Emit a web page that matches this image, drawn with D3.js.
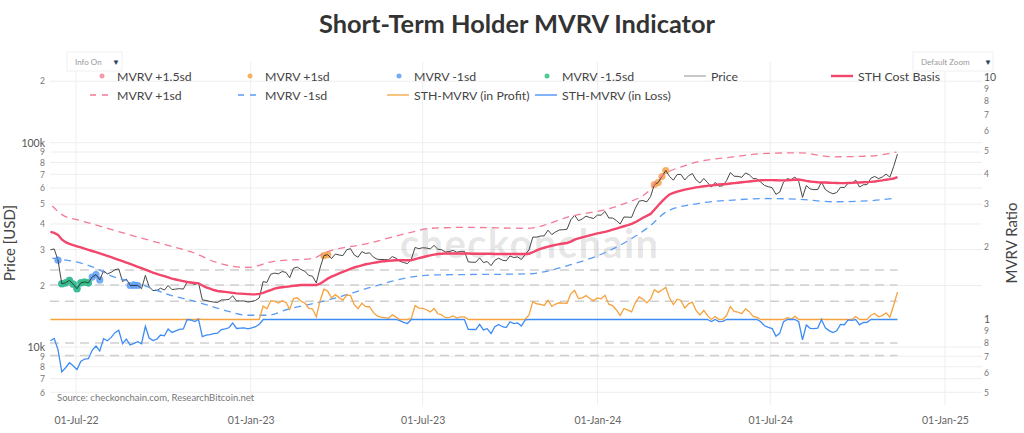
<!DOCTYPE html>
<html><head><meta charset="utf-8">
<script src="https://cdn.jsdelivr.net/npm/d3@7"></script>
<style>
body{margin:0;background:#fff;}
svg{display:block;font-family:Lato,'Open Sans',sans-serif;}
</style>
</head><body><svg id="c" width="1024" height="433"></svg>
<script>
// ---------- DATA ----------
const priceStart = "2022-06-04";
const stepDays = 4;
// BTC price, thousands of USD, one sample every 4 days from priceStart
const price = [
 29.9,30.2,26.6,20.4,20.6,21.2,20.3,
 19.3,20.6,20.8,20.6,22.0,22.6,21.3,23.6,
 22.8,23.2,23.9,24.1,20.9,21.5,20.0,20.0,
 20.0,19.3,22.4,19.7,18.9,18.9,19.4,
 19.0,20.0,19.1,19.2,19.3,19.2,20.8,20.6,
 20.2,20.6,17.0,16.9,16.7,16.6,16.5,
 17.0,17.0,17.1,17.8,16.8,16.8,16.8,16.6,
 16.7,16.9,17.4,20.9,20.7,22.7,23.0,22.8,
 23.4,23.2,21.8,24.3,24.6,23.9,23.5,
 22.4,22.2,20.6,24.4,28.0,28.3,27.1,28.5,
 28.2,28.0,29.9,30.3,28.2,27.5,29.3,
 28.7,28.9,27.6,26.9,26.8,26.8,26.7,27.7,
 27.2,26.3,25.9,25.6,26.8,30.7,30.3,
 30.6,30.5,30.2,31.4,30.1,29.9,29.2,29.3,
 29.7,29.1,29.4,29.4,26.1,26.0,26.0,27.3,
 25.9,26.2,25.0,26.6,27.2,26.6,26.4,
 27.9,27.4,27.6,26.8,28.4,29.9,34.5,34.5,
 34.9,35.0,37.3,35.5,36.6,37.4,37.5,37.7,
 41.9,44.2,41.5,42.3,43.7,43.0,42.6,
 44.2,44.2,46.1,42.8,42.8,41.6,40.0,43.3,
 43.2,43.1,47.8,51.8,52.1,51.3,54.5,
 62.4,63.8,68.3,73.1,68.4,65.5,69.9,69.9,
 65.7,68.9,70.6,65.7,63.5,66.8,63.8,60.6,
 63.9,61.2,61.5,65.2,71.4,68.5,68.4,
 67.7,71.1,69.6,66.8,66.5,64.1,61.8,60.9,
 60.2,55.9,57.3,64.1,66.7,65.9,67.9,64.6,
 54.0,61.7,59.4,58.9,59.0,64.1,59.0,
 57.3,56.2,57.0,60.5,60.3,63.3,63.1,65.6,
 60.7,62.2,62.4,67.0,68.4,66.7,67.9,70.2,
 67.8,76.5,88.0
];
// STH cost basis, thousands of USD, same dates as price
const costBasis = [
 36.6,36.2,35.4,33.6,32.6,32.0,31.5,
 31.1,30.7,30.3,29.9,29.5,29.1,28.7,28.3,
 27.9,27.5,27.1,26.7,26.3,25.9,25.5,25.1,
 24.7,24.3,23.9,23.5,23.1,22.8,22.5,
 22.2,21.9,21.6,21.4,21.2,21.0,20.8,20.7,
 20.6,20.5,20.0,19.6,19.3,19.0,18.8,
 18.7,18.6,18.5,18.4,18.3,18.25,18.2,18.15,
 18.1,18.1,18.2,18.4,18.7,19.0,19.3,19.5,
 19.6,19.7,19.8,19.9,20.0,20.1,20.1,
 20.1,20.1,20.1,20.4,21.0,21.6,22.1,22.5,
 22.9,23.3,23.7,24.1,24.5,24.8,25.1,
 25.4,25.6,25.8,26.0,26.2,26.3,26.4,26.5,
 26.6,26.6,26.6,26.6,26.6,26.9,27.2,
 27.5,27.8,28.1,28.3,28.5,28.6,28.7,28.7,
 28.7,28.7,28.7,28.7,28.7,28.6,28.6,28.6,
 28.6,28.6,28.6,28.5,28.5,28.5,28.5,
 28.5,28.5,28.5,28.5,28.5,28.6,29.1,29.7,
 30.2,30.6,31.0,31.3,31.6,31.9,32.1,32.3,
 32.8,33.5,34.0,34.4,34.8,35.2,35.6,
 36.0,36.3,36.6,37.0,37.5,38.0,38.5,39.0,
 39.5,40.1,40.8,41.8,42.9,43.8,44.8,
 47.0,49.3,51.6,53.8,55.8,56.8,57.6,58.3,
 58.9,59.4,59.9,60.4,60.8,61.2,61.5,61.8,
 62.1,62.4,62.6,62.8,63.1,63.4,63.7,
 64.0,64.3,64.6,64.9,65.2,65.5,65.6,65.6,
 65.6,65.5,65.4,65.4,65.5,65.7,65.9,66.0,
 65.6,65.0,64.6,64.3,64.0,63.9,63.8,
 63.7,63.6,63.5,63.4,63.4,63.5,63.6,63.8,
 63.9,64.0,64.1,64.3,64.6,65.0,65.4,65.9,
 66.3,66.8,67.8
];
// +1sd / -1sd price bands (thousands of USD)
const upperDates = ["2022-06-06","2022-06-17","2022-07-04","2022-08-03","2022-09-04","2022-10-05","2022-11-03","2022-11-25","2022-12-29","2023-01-24","2023-03-08","2023-03-19","2023-05-04","2023-06-22","2023-07-09","2023-08-17","2023-10-19","2023-12-03","2024-01-25","2024-02-25","2024-03-05","2024-04-04","2024-05-23","2024-06-27","2024-08-01","2024-09-05","2024-10-11","2024-11-11"];
const bandUpper = [49.0,44.2,41.8,38.1,34.5,31.5,28.8,26.0,24.5,26.2,27.2,28.8,32.1,36.7,38.1,38.5,38.1,43.5,49.5,58.6,66.0,77.7,85.3,88.6,89.2,85.3,85.9,90.0];
const lowerDates = ["2022-06-06","2022-07-26","2022-08-03","2022-09-04","2022-10-08","2022-11-06","2022-12-03","2022-12-29","2023-01-19","2023-02-09","2023-03-10","2023-04-01","2023-05-04","2023-06-22","2023-07-09","2023-10-19","2023-12-03","2024-01-25","2024-02-25","2024-03-14","2024-04-17","2024-05-23","2024-06-27","2024-08-01","2024-09-05","2024-10-11","2024-11-06"];
const bandLower = [27.2,23.8,22.7,20.5,17.96,16.6,15.2,14.3,14.3,15.3,16.4,17.4,19.4,22.1,22.5,22.8,25.2,31.5,39.0,46.0,50.5,52.4,53.3,52.8,51.4,51.9,53.3];
// signal markers (dates on the price series)
const dotsPlus15 = [];
const dotsPlus1 = ["2023-03-19","2023-03-23","2024-03-01","2024-03-05","2024-03-09","2024-03-13"];
const dotsMinus1 = ["2022-06-12","2022-06-16","2022-06-20","2022-06-24","2022-06-28","2022-07-02","2022-07-06","2022-07-10","2022-07-14","2022-07-18","2022-07-22","2022-07-26","2022-08-27","2022-08-31","2022-09-04"];
const dotsMinus15 = ["2022-06-16","2022-06-20","2022-06-24","2022-06-28","2022-07-02","2022-07-06","2022-07-10","2022-07-14"];
// horizontal MVRV reference levels
const refLevels = [1.6,1.39,1.19,0.8,0.71];
// ticks
const xTicks = ["2022-07-01","2023-01-01","2023-07-01","2024-01-01","2024-07-01","2025-01-01"];
const leftTicks = [6000,7000,8000,9000,10000,20000,30000,40000,50000,60000,70000,80000,90000,100000,200000];
const rightTicks = [0.5,0.6,0.7,0.8,0.9,1,2,3,4,5,6,7,8,9,10];

// ---------- SETUP ----------
const svg = d3.select("#c");
const L = 50, R = 982, T = 62, B = 405;
const parse = d3.utcParse("%Y-%m-%d");
const t0 = parse(priceStart);
const dates = price.map((_, i) => d3.utcDay.offset(t0, i * stepDays));
const series = price.map((p, i) => ({d: dates[i], p: p * 1000, c: costBasis[i] * 1000, m: p / costBasis[i]}));
const byKey = new Map(series.map(s => [d3.utcFormat("%Y-%m-%d")(s.d), s]));

const x = d3.scaleUtc().domain([new Date(Date.UTC(2022,5,3,14)), new Date(Date.UTC(2025,1,9))]).range([L, R]);
const yL = d3.scaleLog().domain([Math.pow(10,3.716), Math.pow(10,5.395)]).range([B, T]);
const yR = d3.scaleLog().domain([Math.pow(10,-0.3533), Math.pow(10,1.064)]).range([B, T]);

// ---------- GRID ----------
const grid = svg.append("g");
grid.selectAll("line.h").data(leftTicks).join("line")
  .attr("x1", L).attr("x2", R).attr("y1", d => yL(d)).attr("y2", d => yL(d))
  .attr("stroke", "#eeeeee").attr("stroke-width", 1);
grid.selectAll("line.v").data(xTicks.map(parse)).join("line")
  .attr("x1", d => x(d)).attr("x2", d => x(d)).attr("y1", T).attr("y2", B)
  .attr("stroke", "#eeeeee").attr("stroke-width", 1);

// watermark
svg.append("text").attr("x", 529).attr("y", 258).attr("text-anchor", "middle")
  .attr("font-size", 40).attr("font-weight", 700).attr("fill", "#000").attr("fill-opacity", 0.11)
  .attr("textLength", 258).text("checkonchain");

// reference dashed levels
const lastD = dates[dates.length - 1];
svg.append("g").selectAll("line").data(refLevels).join("line")
  .attr("x1", L).attr("x2", x(lastD)).attr("y1", d => yR(d)).attr("y2", d => yR(d))
  .attr("stroke", "#cfcfcf").attr("stroke-width", 1.5).attr("stroke-dasharray", "9,6");

// dots
function dots(list, color) {
  svg.append("g").selectAll("circle").data(list.map(k => byKey.get(k)).filter(Boolean)).join("circle")
    .attr("cx", d => x(d.d)).attr("cy", d => yL(d.p)).attr("r", 3.6)
    .attr("fill", color).attr("fill-opacity", 0.85);
}
dots(dotsPlus15, "#f7889f");
dots(dotsPlus1, "#f5a34b");
dots(dotsMinus1, "#5b9cf6");
dots(dotsMinus15, "#2fbf7f");

// lines
const lineL = (acc) => d3.line().x(d => x(d.d)).y(d => yL(acc(d)));
svg.append("path").datum(series).attr("d", lineL(d => d.p))
  .attr("fill", "none").attr("stroke", "#333").attr("stroke-width", 0.9);
svg.append("path").datum(series).attr("d", lineL(d => d.c))
  .attr("fill", "none").attr("stroke", "#f2466b").attr("stroke-width", 2.4);

const up = upperDates.map((s, i) => ({d: parse(s), v: bandUpper[i] * 1000}));
const lo = lowerDates.map((s, i) => ({d: parse(s), v: bandLower[i] * 1000}));
const bandLine = d3.line().x(d => x(d.d)).y(d => yL(d.v)).curve(d3.curveMonotoneX);
svg.append("path").datum(up).attr("d", bandLine).attr("fill", "none")
  .attr("stroke", "#f47a96").attr("stroke-width", 1.3).attr("stroke-dasharray", "7,5");
svg.append("path").datum(lo).attr("d", bandLine).attr("fill", "none")
  .attr("stroke", "#5b9cf6").attr("stroke-width", 1.3).attr("stroke-dasharray", "7,5");

// STH-MVRV (right axis)
const lineR = (acc) => d3.line().x(d => x(d.d)).y(d => yR(acc(d)));
svg.append("path").datum(series).attr("d", lineR(d => Math.max(d.m, 1)))
  .attr("fill", "none").attr("stroke", "#f6a23e").attr("stroke-width", 1.3);
svg.append("path").datum(series).attr("d", lineR(d => Math.min(d.m, 1)))
  .attr("fill", "none").attr("stroke", "#3d8bf5").attr("stroke-width", 1.3);

// ---------- AXES ----------
const isMajL = d => d === 10000 || d === 100000;
const fmtL = d => d === 10000 ? "10k" : d === 100000 ? "100k" : String(Math.round(d / Math.pow(10, Math.floor(Math.log10(d) + 1e-9))));
const axL = svg.append("g").attr("transform", `translate(45,0)`)
  .call(d3.axisLeft(yL).tickValues(leftTicks).tickFormat(fmtL).tickSize(0).tickPadding(0));
axL.select(".domain").remove();
axL.selectAll("text").attr("font-family", "Lato, sans-serif")
  .attr("font-size", d => isMajL(d) ? 10.5 : 8.5)
  .attr("fill", d => isMajL(d) ? "#555" : "#777");

const isMajR = d => d === 10 || d === 1;
const fmtR = d => d === 10 ? "10" : d === 1 ? "1" : String(Math.round(d >= 1 ? d : d * 10));
const axR = svg.append("g").attr("transform", `translate(984,0)`)
  .call(d3.axisRight(yR).tickValues(rightTicks).tickFormat(fmtR).tickSize(0).tickPadding(0));
axR.select(".domain").remove();
axR.selectAll("text").attr("font-family", "Lato, sans-serif")
  .attr("font-size", d => isMajR(d) ? 10.5 : 8.5)
  .attr("fill", d => isMajR(d) ? "#555" : "#777");

const axX = svg.append("g").attr("transform", `translate(0,417)`)
  .call(d3.axisBottom(x).tickValues(xTicks.map(parse)).tickFormat(d3.utcFormat("%d-%b-%y")).tickSize(0).tickPadding(0));
axX.select(".domain").remove();
axX.selectAll("text").attr("font-family", "Lato, sans-serif").attr("font-size", 10.5).attr("fill", "#666");

// axis titles
svg.append("text").attr("transform", "translate(15,243) rotate(-90)").attr("text-anchor", "middle")
  .attr("font-size", 15).attr("fill", "#444").text("Price [USD]");
svg.append("text").attr("transform", "translate(1017,243) rotate(-90)").attr("text-anchor", "middle")
  .attr("font-size", 15).attr("fill", "#444").text("MVRV Ratio");

// title
svg.append("text").attr("x", 517).attr("y", 33).attr("text-anchor", "middle")
  .attr("font-size", 24).attr("font-weight", 700).attr("fill", "#333")
  .attr("textLength", 396).attr("lengthAdjust", "spacingAndGlyphs")
  .text("Short-Term Holder MVRV Indicator");

// source
svg.append("text").attr("x", 57).attr("y", 401).attr("font-size", 9.5).attr("fill", "#777")
  .text("Source: checkonchain.com, ResearchBitcoin.net");

// buttons
function btn(x0, w, label, arrowX) {
  const g = svg.append("g");
  g.append("rect").attr("x", x0).attr("y", 52).attr("width", w).attr("height", 19)
    .attr("fill", "#fff").attr("stroke", "#f0f0f0");
  g.append("text").attr("x", x0 + 8).attr("y", 65).attr("font-size", 8).attr("fill", "#999").text(label);
  g.append("text").attr("x", arrowX).attr("y", 65).attr("font-size", 8).attr("fill", "#2a3f5f").text("▼");
}
btn(67, 55, "Info On", 112);
btn(913, 80, "Default Zoom", 984);

// ---------- LEGEND ----------
const legend = [
  {t: "MVRV +1.5sd", type: "dot", c: "#f7889f", x: 102, y: 76},
  {t: "MVRV +1sd", type: "dot", c: "#f5a34b", x: 250, y: 76},
  {t: "MVRV -1sd", type: "dot", c: "#5b9cf6", x: 399, y: 76},
  {t: "MVRV -1.5sd", type: "dot", c: "#2fbf7f", x: 547, y: 76},
  {t: "Price", type: "line", c: "#aaa", w: 1.3, x: 695, y: 76},
  {t: "STH Cost Basis", type: "line", c: "#f2466b", w: 2.4, x: 842, y: 76},
  {t: "MVRV +1sd", type: "dash", c: "#f47a96", w: 1.3, x: 101, y: 95},
  {t: "MVRV -1sd", type: "dash", c: "#5b9cf6", w: 1.3, x: 249, y: 95},
  {t: "STH-MVRV (in Profit)", type: "line", c: "#f6a23e", w: 1.3, x: 398, y: 95},
  {t: "STH-MVRV (in Loss)", type: "line", c: "#3d8bf5", w: 1.3, x: 546, y: 95}
];
const lg = svg.append("g");
legend.forEach(it => {
  if (it.type === "dot") {
    lg.append("circle").attr("cx", it.x).attr("cy", it.y).attr("r", 2.5).attr("fill", it.c).attr("fill-opacity", 0.85);
  } else {
    lg.append("line").attr("x1", it.x - 11).attr("x2", it.x + 11).attr("y1", it.y).attr("y2", it.y)
      .attr("stroke", it.c).attr("stroke-width", it.w).attr("stroke-dasharray", it.type === "dash" ? "6,6" : null);
  }
  const tx = it.type === "dot" ? it.x + 15 : it.x + 16;
  lg.append("text").attr("x", tx).attr("y", it.y + 4.5).attr("font-size", 12.3).attr("fill", "#444").text(it.t);
});
</script>
</body></html>
